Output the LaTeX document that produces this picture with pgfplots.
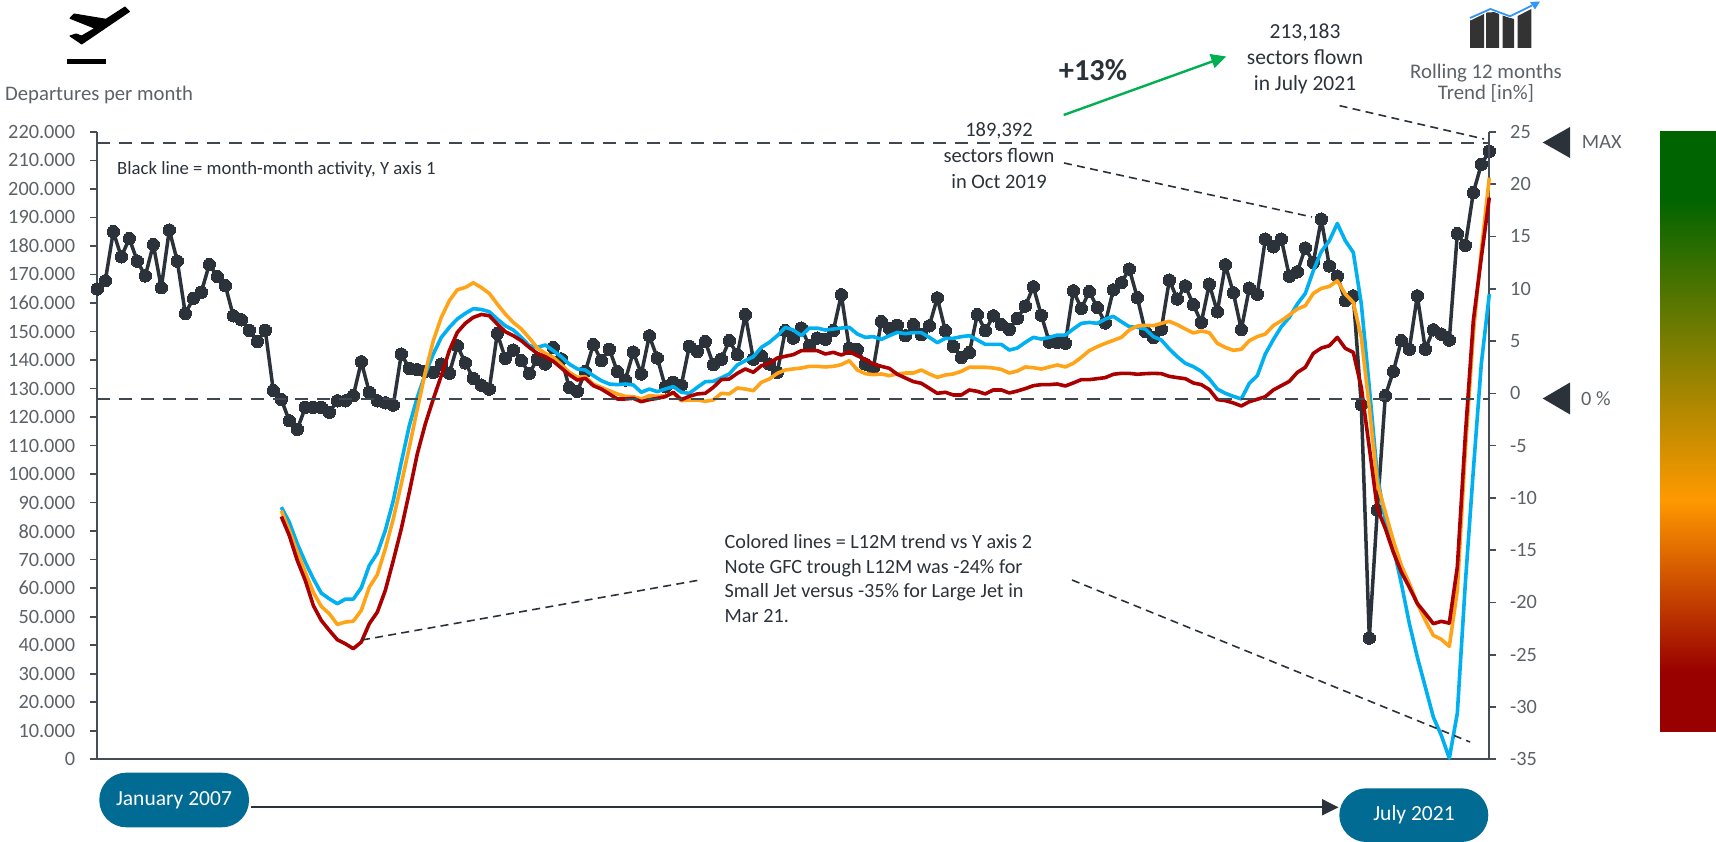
\documentclass[border=0pt]{standalone}
\usepackage{pgfplots}
\usepackage{pgfplotstable}
\usepackage{fontspec}
\pgfplotsset{compat=1.18}
\setmainfont{Carlito}
\definecolor{ink}{HTML}{2B323A}
\definecolor{axisc}{HTML}{474D55}
\definecolor{lab}{HTML}{5C6267}
\definecolor{cblue}{HTML}{00B0F0}
\definecolor{corange}{HTML}{FFA319}
\definecolor{cred}{HTML}{AA0000}
\definecolor{cgreen}{HTML}{00B050}
\definecolor{pill}{HTML}{026B93}
\definecolor{bgreen}{HTML}{006400}
\definecolor{borange}{HTML}{FF9900}
\definecolor{bred}{HTML}{990000}
\pgfdeclareverticalshading{barshade}{100bp}{color(0bp)=(bred); color(30bp)=(bred); color(44.35bp)=(borange); color(69.5bp)=(bgreen); color(100bp)=(bgreen)}
\pgfplotstableread{
i v
0 164900
1 167800
2 185000
3 176200
4 182600
5 174700
6 169500
7 180500
8 165400
9 185600
10 174700
11 156300
12 161600
13 163800
14 173500
15 169300
16 166100
17 155500
18 154100
19 150400
20 146500
21 150400
22 129300
23 126200
24 118700
25 115700
26 123400
27 123400
28 123400
29 121700
30 125700
31 125700
32 127500
33 139400
34 128700
35 125700
36 125000
37 124200
38 142100
39 137100
40 136600
41 136000
42 135700
43 138600
44 135400
45 145000
46 139000
47 133600
48 131200
49 129800
50 149300
51 140600
52 143500
53 139800
54 135300
55 140300
56 138600
57 144400
58 140400
59 130400
60 129000
61 136000
62 145400
63 139800
64 143800
65 136000
66 133000
67 142800
68 135100
69 148500
70 140700
71 130600
72 132200
73 131200
74 144800
75 143000
76 146500
77 138400
78 140300
79 146800
80 141900
81 155900
82 140300
83 141500
84 138600
85 135700
86 150300
87 147700
88 151200
89 145000
90 147700
91 147300
92 150300
93 162900
94 144100
95 143700
96 138600
97 137200
98 153500
99 151100
100 152200
101 148500
102 152400
103 148900
104 152000
105 161800
106 150300
107 144800
108 140900
109 142600
110 155900
111 150300
112 155500
113 152400
114 150700
115 154600
116 158900
117 165700
118 155700
119 146300
120 146200
121 145900
122 164300
123 158100
124 164000
125 158400
126 153000
127 164600
128 167100
129 171900
130 161900
131 150000
132 147900
133 150800
134 168000
135 161400
136 166000
137 159400
138 153200
139 166600
140 156900
141 173400
142 163600
143 150700
144 165200
145 163100
146 182400
147 179700
148 182400
149 169400
150 170900
151 179300
152 174200
153 189392
154 173000
155 169400
156 160800
157 162500
158 124300
159 42500
160 87400
161 127500
162 136000
163 146800
164 143800
165 162500
166 143800
167 150600
168 149100
169 147000
170 184300
171 180200
172 198700
173 208600
174 213183
}\tblack
\pgfplotstableread{
i b o r
23 -10.89 -11.21 -11.78
24 -12.33 -13.12 -13.60
25 -14.39 -15.19 -15.99
26 -16.15 -17.10 -17.90
27 -17.74 -19.02 -20.29
28 -19.11 -20.38 -21.72
29 -19.65 -21.08 -22.67
30 -20.12 -22.10 -23.56
31 -19.68 -21.88 -23.95
32 -19.68 -21.79 -24.42
33 -18.60 -20.76 -23.79
34 -16.46 -18.54 -22.03
35 -15.29 -17.35 -20.93
36 -13.12 -14.87 -18.85
37 -10.25 -12.00 -15.99
38 -6.60 -8.66 -12.96
39 -3.09 -5.16 -9.46
40 -0.38 -1.49 -5.79
41 1.85 2.00 -2.93
42 3.76 5.03 -0.54
43 5.35 7.26 1.69
44 6.30 8.85 4.08
45 7.11 9.90 5.83
46 7.64 10.12 6.69
47 8.09 10.57 7.26
48 8.02 10.12 7.54
49 7.80 9.55 7.42
50 7.10 8.53 6.62
51 6.46 7.58 5.89
52 6.05 6.78 5.51
53 5.35 6.15 5.03
54 4.55 5.29 4.39
55 4.39 4.33 3.82
56 4.62 3.82 3.50
57 4.08 3.44 3.06
58 3.50 2.74 2.42
59 2.80 2.01 1.78
60 2.33 1.53 1.27
61 2.23 1.59 1.43
62 1.69 0.89 0.73
63 1.21 0.57 0.41
64 0.89 0.25 -0.06
65 0.83 -0.06 -0.54
66 0.89 -0.29 -0.54
67 0.80 -0.32 -0.48
68 0.10 -0.54 -0.80
69 0.41 -0.22 -0.61
70 0.16 -0.29 -0.48
71 0.41 -0.22 -0.32
72 0.64 0.00 0.10
73 0.10 -0.70 -0.61
74 0.00 -0.64 -0.29
75 0.57 -0.64 -0.06
76 1.11 -0.76 0.00
77 1.15 -0.64 0.57
78 1.47 0.00 1.31
79 1.85 -0.06 1.37
80 2.71 0.51 1.91
81 3.12 0.41 2.33
82 3.50 0.25 2.01
83 4.39 1.05 2.64
84 4.87 1.37 2.87
85 5.51 1.91 3.38
86 6.31 2.23 3.54
87 6.05 2.33 3.70
88 5.51 2.42 4.08
89 6.24 2.58 4.08
90 6.24 2.58 4.08
91 6.05 2.52 3.76
92 6.15 2.58 3.92
93 6.24 2.74 3.66
94 6.31 3.12 3.98
95 5.67 2.23 3.60
96 5.35 1.88 3.23
97 5.42 1.78 2.80
98 5.16 1.85 2.58
99 5.51 1.69 2.39
100 5.83 1.85 1.82
101 5.70 1.94 1.47
102 5.80 1.94 1.12
103 5.80 2.23 0.96
104 5.35 1.85 0.48
105 4.84 1.53 0.00
106 5.26 1.75 0.10
107 5.26 1.85 -0.16
108 5.42 2.10 -0.16
109 5.51 2.49 0.32
110 5.10 2.49 0.19
111 4.68 2.49 -0.06
112 4.68 2.42 0.32
113 4.68 2.29 0.32
114 4.14 1.94 0.03
115 4.33 2.13 0.22
116 4.87 2.52 0.45
117 5.35 2.45 0.73
118 5.19 2.32 0.83
119 5.35 2.52 0.83
120 5.57 2.71 0.89
121 5.57 2.52 0.70
122 6.15 2.87 0.99
123 6.69 3.44 1.31
124 6.78 4.08 1.31
125 6.69 4.46 1.40
126 7.10 4.78 1.50
127 7.36 5.06 1.82
128 6.85 5.35 1.91
129 6.37 6.05 1.91
130 6.31 6.43 1.82
131 6.15 6.50 1.88
132 5.42 6.47 1.91
133 5.10 6.69 1.88
134 4.24 6.88 1.62
135 3.50 6.56 1.50
136 2.87 6.15 1.40
137 2.55 5.77 0.99
138 2.10 5.96 0.83
139 1.37 5.80 0.35
140 0.41 4.78 -0.60
141 0.00 4.39 -0.70
142 -0.29 4.11 -0.92
143 -0.54 4.21 -1.21
144 0.96 5.03 -0.80
145 1.69 5.42 -0.57
146 3.76 5.67 -0.32
147 5.13 6.47 0.32
148 6.37 6.94 0.73
149 7.26 7.49 1.14
150 8.54 8.06 2.00
151 9.55 8.38 2.48
152 11.72 9.55 3.82
153 13.56 10.03 4.33
154 14.59 10.22 4.55
155 16.24 10.76 5.35
156 14.59 9.49 4.30
157 13.47 8.69 3.91
158 8.54 5.35 0.57
159 0.57 -1.34 -5.19
160 -7.87 -8.63 -11.02
161 -12.16 -11.37 -12.93
162 -14.72 -14.08 -15.19
163 -18.18 -16.46 -17.10
164 -22.00 -18.18 -18.54
165 -25.23 -20.10 -20.10
166 -28.09 -21.72 -21.05
167 -30.96 -23.15 -22.03
168 -32.71 -23.53 -21.81
169 -34.90 -24.20 -21.98
170 -30.60 -18.85 -16.63
171 -18.18 -5.48 -4.04
172 -7.39 5.70 6.94
173 2.83 13.63 12.99
174 9.49 20.63 18.72
}\tcolor
\newcommand{\fs}[1]{\fontsize{#1}{24}\selectfont}
\begin{document}
\begin{tikzpicture}[x=1pt,y=1pt,line cap=butt]
\useasboundingbox (0,0) rectangle (1716,842);
\pgfplotsset{every axis/.append style={
  scale only axis, width=1392pt, height=627.4pt,
  at={(97.3pt,82.7pt)}, anchor=south west,
  xmin=0, xmax=174, clip=false,
  xtick=\empty,
  tick align=outside, major tick length=7pt,
  tick style={line width=1.6pt,color=axisc},
  axis line style={line width=1.9pt,color=axisc},
  /pgf/number format/fixed,
  /pgf/number format/precision=0,
  /pgf/number format/assume math mode=true,
  tick label style={font=\fs{20.3},text=lab},
}}
\begin{axis}[
  ymin=0, ymax=220000, ytick distance=10000,
  scaled y ticks=false,
  axis x line*=bottom, axis y line*=left,
  /pgf/number format/1000 sep={.},
  yticklabel style={inner xsep=0pt,xshift=-15pt},
]
\addplot[color=ink,line width=3.5pt,line join=round,mark=*,mark size=6.2pt,mark options={fill=ink,draw=ink,line width=0pt}] table[x=i,y=v] {\tblack};
\end{axis}
\begin{axis}[
  ymin=-35, ymax=25, ytick distance=5,
  axis x line=none, axis y line*=right,
  yticklabel style={inner xsep=0pt,xshift=13.7pt,anchor=west},
]
\addplot[color=cblue,line width=3.6pt,line join=round] table[x=i,y=b] {\tcolor};
\addplot[color=corange,line width=3.6pt,line join=round] table[x=i,y=o] {\tcolor};
\addplot[color=cred,line width=3.6pt,line join=round] table[x=i,y=r] {\tcolor};
\addplot[color=ink!90,line width=2.1pt,dash pattern=on 13pt off 9pt] coordinates {(0,23.95) (174,23.95)};
\addplot[color=ink!90,line width=2.1pt,dash pattern=on 13pt off 9pt] coordinates {(0,-0.53) (174,-0.53)};
\end{axis}
\begin{scope}[shift={(0,842)},x=1pt,y=-1pt]
 % plane icon
 \fill[black,draw=black,line width=1pt,line join=round] (125,7)--(129.5,11.5)--(81.7,44)--(70,36)--(76,34)--(81.7,36)--(95,28.3)--(70,18.3)--(74,14)--(106,19.3)--cycle;
 \fill[black] (67.3,59) rectangle (106,64);
 \node[anchor=west,inner sep=0pt,font=\fs{20.7},text=lab] at (5,95) {Departures per month};
 % trend icon
 \fill[black!80] (1470,48)--(1470,20.5)--(1484,13.5)--(1484,48)--cycle;
 \fill[black!80] (1486,48)--(1486,12.5)--(1499,12)--(1499,48)--cycle;
 \fill[black!80] (1502.5,48)--(1502.5,15.5)--(1514,19)--(1514,48)--cycle;
 \fill[black!80] (1517.6,48)--(1517.6,16)--(1531.4,9)--(1531.4,48)--cycle;
 \draw[color=white,line width=3pt] (1470,19)--(1490.4,9)--(1510,16.3)--(1530,6);
 \draw[color=cblue!70!blue!80!white,line width=1.8pt] (1470,18)--(1490.4,9)--(1510,16.3)--(1532,5.5);
 \fill[color=cblue!70!blue!80!white] (1530,2)--(1540,1.5)--(1535,9.5)--cycle;
 \node[align=center,inner sep=0pt,font=\fontsize{20.8}{21.5}\selectfont,text=lab] at (1486,83) {Rolling 12 months\\Trend [in\%]};
 % notes
 \node[anchor=west,inner sep=0pt,font=\fs{18.7},text=ink] at (117,169.5) {Black line = month-month activity, Y axis 1};
 \node[align=center,inner sep=0pt,font=\fontsize{21.5}{26}\selectfont,text=ink] at (1305,59) {213,183\\sectors flown\\in July 2021};
 \node[align=center,inner sep=0pt,font=\fontsize{20.5}{26.2}\selectfont,text=ink] at (999,155.5) {189,392\\sectors flown\\in Oct 2019};
 \node[inner sep=0pt,font=\bfseries\fs{30.5},text=ink] at (1093,70) {+13\%};
 \node[anchor=north west,align=left,inner sep=0pt,font=\fontsize{20.2}{24.6}\selectfont,text=ink] at (724.5,534.5) {Colored lines = L12M trend vs Y axis 2\\Note GFC trough L12M was -24\% for\\Small Jet versus -35\% for Large Jet in\\Mar 21.};
 \draw[cgreen,line width=2.4pt] (1063.7,115)--(1215,60.5);
 \fill[cgreen] (1226,56.5)--(1209.5,54)--(1214.5,68)--cycle;
 % annotation leaders
 \begin{scope}[color=ink,line width=1.6pt,dash pattern=on 8pt off 5.3pt]
 \draw (1064,163)--(1312,217);
 \draw (1339.6,105.7)--(1484,139);
 \draw (362,640)--(700,580);
 \draw (1072,580)--(1470,742);
 \end{scope}
 % markers at the right
 \fill[ink] (1542.7,142.5)--(1570,127)--(1570,158)--cycle;
 \fill[ink] (1542.7,398.5)--(1570,382.5)--(1570,414.5)--cycle;
 \node[anchor=west,inner sep=0pt,font=\fs{20.3},text=lab] at (1581.7,142) {MAX};
 \node[anchor=west,inner sep=0pt,font=\fs{20.3},text=lab] at (1581,398.5) {0 \%};
 % colour bar
 \shade[shading=barshade] (1660,132) rectangle (1716,732);
 % timeline
 \fill[pill,rounded corners=27pt] (99.3,772.7) rectangle (249,827.3);
 \node[inner sep=0pt,font=\fs{21.5},text=white] at (174,800.5) {January 2007};
 \draw[ink,line width=2.3pt] (250.5,807.3)--(1325,807.3);
 \fill[ink] (1338.5,807.3)--(1322,799)--(1322,815.5)--cycle;
 \fill[pill,rounded corners=27pt] (1339.3,788.3) rectangle (1488.3,842);
 \node[inner sep=0pt,font=\fs{21.5},text=white] at (1414,815) {July 2021};
\end{scope}
\end{tikzpicture}
\end{document}
